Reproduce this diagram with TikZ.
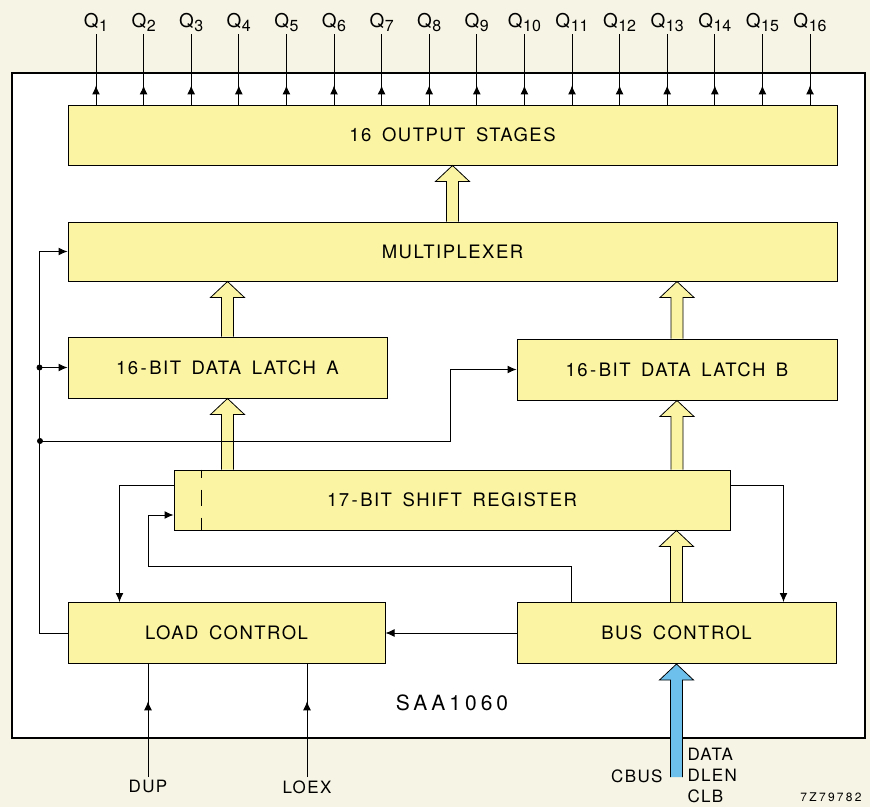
\documentclass[tikz,border=0pt]{standalone}
\usepackage{fontspec}
\setmainfont{TeX Gyre Heros}
\newfontfamily\blockfont[LetterSpace=8,WordSpace=1.6]{TeX Gyre Heros}
\newfontfamily\codefont[LetterSpace=19]{TeX Gyre Heros}
\usetikzlibrary{arrows.meta,decorations.markings,calc}

\definecolor{paper}{RGB}{246,244,228}
\definecolor{blockyellow}{RGB}{251,245,163}
\definecolor{busblue}{RGB}{110,192,236}

% output name with lowered index
\newcommand{\qsub}[1]{Q\kern0.5pt\raisebox{-4pt}{\fontsize{16}{16}\selectfont #1}}
% spaced hyphen as printed
\newcommand{\hy}{\kern2.5pt-\kern2.5pt}
% wide bus arrow: fill, from, to
\newcommand{\widearrow}[3]{%
  \draw[fill=#1, line width=0.8pt, line join=miter] let \p1=(#2), \p2=(#3) in
    (\x1-6pt,\y1) -- (\x1-6pt,\y2-16pt) -- (\x1-17pt,\y2-16pt) -- (\x1,\y2)
    -- (\x1+17pt,\y2-16pt) -- (\x1+6pt,\y2-16pt) -- (\x1+6pt,\y1);}

\begin{document}
\begin{tikzpicture}[x=1pt, y=-1pt,
    block/.style={draw, fill=blockyellow, line width=1pt, inner sep=0pt,
      font=\blockfont\fontsize{18.5}{20}\selectfont},
    wire/.style={line width=1pt},
    arr/.style={wire, -{Latex[length=9pt,width=8pt]}},
    midarrow/.style={wire, postaction={decorate}, decoration={markings,
      mark=at position #1 with {\arrow{Latex[length=9pt,width=8pt]}}}},
    pinlabel/.style={font=\blockfont\fontsize{17}{21}\selectfont}]
  \useasboundingbox (0,0) rectangle (870,807);
  \fill[paper] (0,0) rectangle (870,807);

  % chip
  \draw[line width=1.3pt, fill=white] (12,73) rectangle (865,738);
  \node[font=\codefont\fontsize{21}{24}\selectfont] (chip) at (452,703) {SAA1060};

  % blocks
  \node[block, minimum width=769pt, minimum height=60pt] (out)  at (452.5,135)   {16 OUTPUT STAGES};
  \node[block, minimum width=769pt, minimum height=59pt] (mux)  at (452.5,251.5) {MULTIPLEXER};
  \node[block, minimum width=319pt, minimum height=61pt] (latA) at (227.5,367.5) {16\hy BIT DATA LATCH A};
  \node[block, minimum width=320pt, minimum height=61pt] (latB) at (677,369.5)   {16\hy BIT DATA LATCH B};
  \node[block, minimum width=556pt, minimum height=60pt] (sreg) at (452,500)     {17\hy BIT SHIFT REGISTER};
  \node[block, minimum width=317pt, minimum height=61pt] (load) at (226.5,633)   {LOAD CONTROL};
  \node[block, minimum width=319pt, minimum height=61pt] (bus)  at (676.5,633)   {BUS CONTROL};
  \draw[wire, dash pattern=on 16pt off 12pt, dash phase=8pt]
    ([xshift=28pt]sreg.north west) -- ([xshift=28pt]sreg.south west);

  % outputs
  \foreach \i in {1,...,16} {
    \node[anchor=south, inner sep=2pt, font=\fontsize{19}{20}\selectfont]
      (q\i) at ({96+(\i-1)*47.6},34) {\qsub{\i}};
    \draw[midarrow=0.27] (out.north -| q\i) -- (q\i.south);
  }

  % data paths
  \widearrow{blockyellow}{mux.north}{out.south}
  \widearrow{blockyellow}{latA.north}{latA.north |- mux.south}
  \widearrow{blockyellow}{latB.north}{latB.north |- mux.south}
  \widearrow{blockyellow}{latA.south |- sreg.north}{latA.south}
  \widearrow{blockyellow}{latB.south |- sreg.north}{latB.south}
  \widearrow{blockyellow}{bus.north}{bus.north |- sreg.south}

  % load control lines
  \coordinate (lb) at ([xshift=-28pt]load.west);
  \coordinate (tapA) at (lb |- latA.west);
  \coordinate (tapB) at (40,441);
  \draw[arr] (load.west) -- (lb) |- (mux.west);
  \draw[arr] (tapA) -- (latA.west);
  \draw[arr] (tapB) -- ++(410,0) |- (latB.west);
  \fill (tapA) circle (3pt) (tapB) circle (3pt);

  % shift register loops
  \draw[arr] ([yshift=15pt]sreg.west) -| ([xshift=52pt]load.north west);
  \draw[arr] ([xshift=55pt]bus.north west) -- ++(0,-36)
    -| ([xshift=-25pt,yshift=-15pt]sreg.west) -- ([yshift=-15pt]sreg.west);
  \draw[arr] ([yshift=15pt]sreg.east) -| ([xshift=-53pt]bus.north east);
  \draw[arr] (bus.west) -- (load.east);

  % inputs
  \node[pinlabel, anchor=north] (dup)  at (148,777) {DUP};
  \node[pinlabel, anchor=north] (loex) at (307,777) {LOEX};
  \draw[midarrow=0.67] (dup.north) -- (dup.north |- load.south);
  \draw[midarrow=0.67] (loex.north) -- (loex.north |- load.south);

  \coordinate (cbus) at ([yshift=-113pt]bus.south);
  \widearrow{busblue}{cbus}{bus.south}
  \node[pinlabel, anchor=east] (cbuslbl) at (666,776) {CBUS};
  \node[pinlabel, anchor=west, align=left] (sigs) at (684,775) {DATA\\DLEN\\CLB};
  \node[font=\codefont\fontsize{12}{14}\selectfont] (code) at (831,797) {7Z79782};
\end{tikzpicture}
\end{document}
